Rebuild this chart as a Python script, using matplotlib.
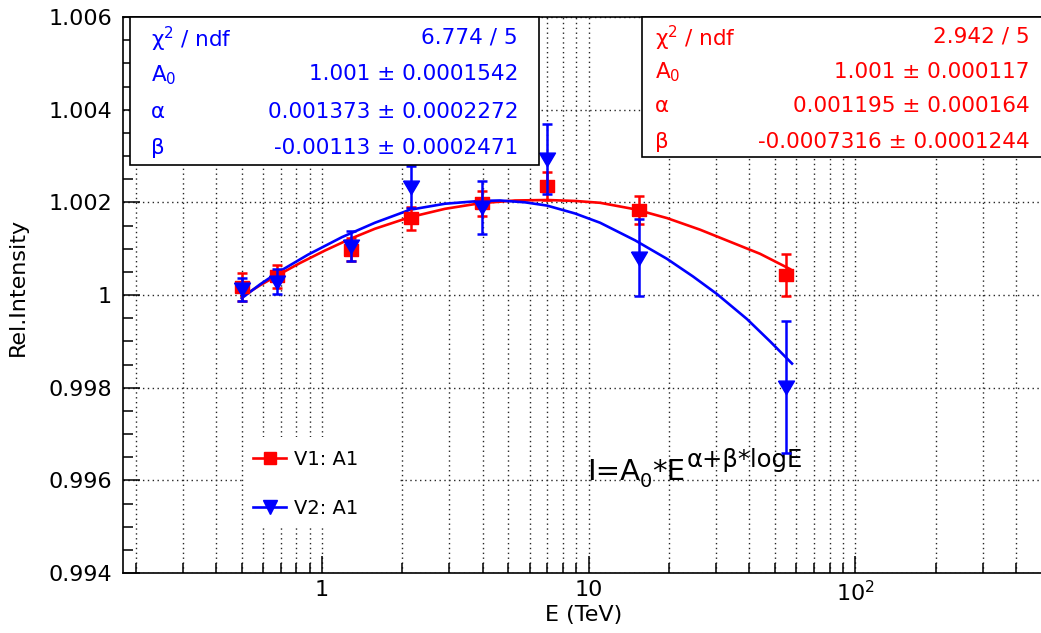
import numpy as np
import matplotlib
matplotlib.use("Agg")
import matplotlib.pyplot as plt
from matplotlib.lines import Line2D
from matplotlib.patches import Rectangle
from matplotlib.transforms import offset_copy
from matplotlib.ticker import FixedLocator, FixedFormatter, LogLocator, MultipleLocator

plt.rcParams['font.family'] = ['DejaVu Sans']
plt.rcParams['mathtext.default'] = 'regular'

# measured points (same energies for both versions)
energy = [0.50, 0.68, 1.28, 2.15, 3.98, 6.96, 15.5, 54.7]
v1_int = [1.00018, 1.00040, 1.00098, 1.00166, 1.00198, 1.00235, 1.00184, 1.00043]
v1_err = [0.00030, 0.00025, 0.00025, 0.00025, 0.00027, 0.00030, 0.00030, 0.00045]
v2_int = [1.00012, 1.00029, 1.00106, 1.00233, 1.00189, 1.00293, 1.00080, 0.99801]
v2_err = [0.00025, 0.00027, 0.00032, 0.00045, 0.00058, 0.00076, 0.00083, 0.00143]

# fitted curves
v1_fit_e = [0.500, 0.586, 0.684, 0.827, 1.026, 1.274, 1.580, 2.138, 2.893, 3.912,
            5.293, 6.978, 8.885, 11.03, 14.92, 19.66, 26.15, 33.87, 43.88, 56.87]
v1_fit = [0.99996, 1.00021, 1.00043, 1.00069, 1.00096, 1.00121, 1.00143, 1.00168, 1.00186, 1.00198,
          1.00204, 1.00205, 1.00203, 1.00199, 1.00185, 1.00166, 1.00141, 1.00115, 1.00089, 1.00056]
v2_fit_e = [0.500, 0.586, 0.684, 0.886, 1.189, 1.580, 2.138, 2.893, 3.912, 4.650, 5.771,
            6.978, 8.885, 11.03, 14.92, 19.66, 24.61, 30.28, 39.23, 47.85, 57.86]
v2_fit = [0.99993, 1.00023, 1.00049, 1.00087, 1.00125, 1.00156, 1.00184, 1.00197, 1.00203, 1.00204,
          1.00200, 1.00193, 1.00176, 1.00156, 1.00118, 1.00078, 1.00040, 1.00002, 0.99948, 0.99900,
          0.99852]

# fit parameter boxes
par_names = ['χ$^{2}$ / ndf', 'A$_{0}$', 'α', 'β']
v2_pars = ['6.774 / 5', '1.001 ± 0.0001542', '0.001373 ± 0.0002272', '-0.00113 ± 0.0002471']
v1_pars = ['2.942 / 5', '1.001 ± 0.000117', '0.001195 ± 0.000164', '-0.0007316 ± 0.0001244']

yticks = [0.994, 0.996, 0.998, 1.0, 1.002, 1.004, 1.006]
ylabels = ['0.994', '0.996', '0.998', '1', '1.002', '1.004', '1.006']
xticks = [1, 10, 100]
xlabels = ['1', '10', '10$^{2}$']

RED = '#ff0000'
BLUE = '#0000ff'
W, H = 1041, 633

fig = plt.figure(figsize=(W / 100, H / 100), dpi=100)
ax = fig.add_axes([123 / W, 60 / H, 922 / W, 556 / H])
ax.set_xscale('log')
ax.set_xlim(0.1794, 514)
ax.set_ylim(0.994, 1.006)

ax.xaxis.set_major_locator(FixedLocator(xticks))
ax.xaxis.set_major_formatter(FixedFormatter(xlabels))
ax.xaxis.set_minor_locator(LogLocator(base=10, subs=np.arange(2, 10)))
ax.xaxis.set_minor_formatter(FixedFormatter([]))
ax.yaxis.set_major_locator(FixedLocator(yticks))
ax.yaxis.set_major_formatter(FixedFormatter(ylabels))
ax.yaxis.set_minor_locator(MultipleLocator(0.0005))

ax.tick_params(which='both', direction='in', top=False, right=False, width=1.1, labelsize=16)
ax.tick_params(axis='x', which='major', length=12, pad=5)
ax.tick_params(axis='x', which='minor', length=7)
ax.tick_params(axis='y', which='major', length=12, pad=8)
ax.tick_params(axis='y', which='minor', length=7)
for s in ax.spines.values():
    s.set_linewidth(1.2)

ax.grid(True, which='both', axis='x', color='0.15', ls=(0, (1, 2.5)), lw=1.0)
ax.grid(True, which='major', axis='y', color='0.15', ls=(0, (1, 2.5)), lw=1.0)
ax.set_axisbelow(True)

ax.set_xlabel('E (TeV)', fontsize=16)
ax.xaxis.set_label_coords(0.5, -0.058)
ax.set_ylabel('Rel.Intensity', fontsize=16)
ax.yaxis.set_label_coords(-0.103, 0.514)

sq = [(-1, -0.8), (1, -0.8), (1, 0.8), (-1, 0.8), (-1, -0.8)]
tri = [(-1, 0.8), (1, 0.8), (0, -0.9), (-1, 0.8)]

ax.plot(v1_fit_e, v1_fit, color=RED, lw=1.9, zorder=3)
ax.plot(v2_fit_e, v2_fit, color=BLUE, lw=1.9, zorder=3)
ax.errorbar(energy, v1_int, yerr=v1_err, ls='none', marker=sq, ms=10.5, color=RED,
            elinewidth=1.8, capsize=3.5, capthick=1.8, zorder=4)
ax.errorbar(energy, v2_int, yerr=v2_err, ls='none', marker=tri, ms=11.5, color=BLUE,
            elinewidth=1.8, capsize=3.5, capthick=1.8, zorder=5)

# white legend pad hiding the grid behind it
ax.add_patch(Rectangle((244 / W, 1 - 527 / H), 156 / W, 90 / H, transform=fig.transFigure,
                       facecolor='white', edgecolor='none', zorder=1))
handles = [Line2D([], [], color=RED, lw=1.9, marker='s', ms=8),
           Line2D([], [], color=BLUE, lw=1.9, marker='v', ms=10)]
ax.legend(handles, ['V1: A1', 'V2: A1'], loc='upper left', bbox_to_anchor=(0.141, 0.222),
          frameon=False, fontsize=14, handlelength=1.7, handletextpad=0.4,
          labelspacing=1.58, borderpad=0, borderaxespad=0, numpoints=1)

# formula, put together piece by piece so the exponent has no extra spacing
rend = fig.canvas.get_renderer()
fx, fy = 0.503, 0.167
for txt, fs, dy, gap in [('I=A', 21, 0, 0), ('0', 14, -7, 0), ('*E', 21, 0, 0),
                         ('α+β*logE', 17.5, 13, 2)]:
    tr = offset_copy(ax.transAxes, fig=fig, x=gap, y=dy, units='dots')
    t = ax.text(fx, fy, txt, transform=tr, fontsize=fs, ha='left', va='baseline')
    bb = t.get_window_extent(rend)
    fx = ax.transAxes.inverted().transform((bb.x1, bb.y0))[0]

# stat boxes, in pixel coordinates of the picture
def statbox(x0, x1, y0, y1, lab_x, val_x, names, vals, color):
    fig.add_artist(Rectangle((x0 / W, 1 - y1 / H), (x1 - x0) / W, (y1 - y0) / H,
                             transform=fig.transFigure, facecolor='white',
                             edgecolor='black', lw=1.2, zorder=10))
    rh = (y1 - y0) / 4.0
    for i in range(4):
        yc = y0 + rh * (i + 0.5)
        fig.text(lab_x / W, 1 - yc / H, names[i], color=color, fontsize=15.5,
                 ha='left', va='center_baseline', zorder=11)
        fig.text(val_x / W, 1 - yc / H, vals[i], color=color, fontsize=15.5,
                 ha='right', va='center_baseline', zorder=11)

statbox(130, 539, 17, 165, 151, 518, par_names, v2_pars, BLUE)
statbox(642, 1060, 17, 157, 655, 1030, par_names, v1_pars, RED)

plt.savefig('out.png', dpi=100)
